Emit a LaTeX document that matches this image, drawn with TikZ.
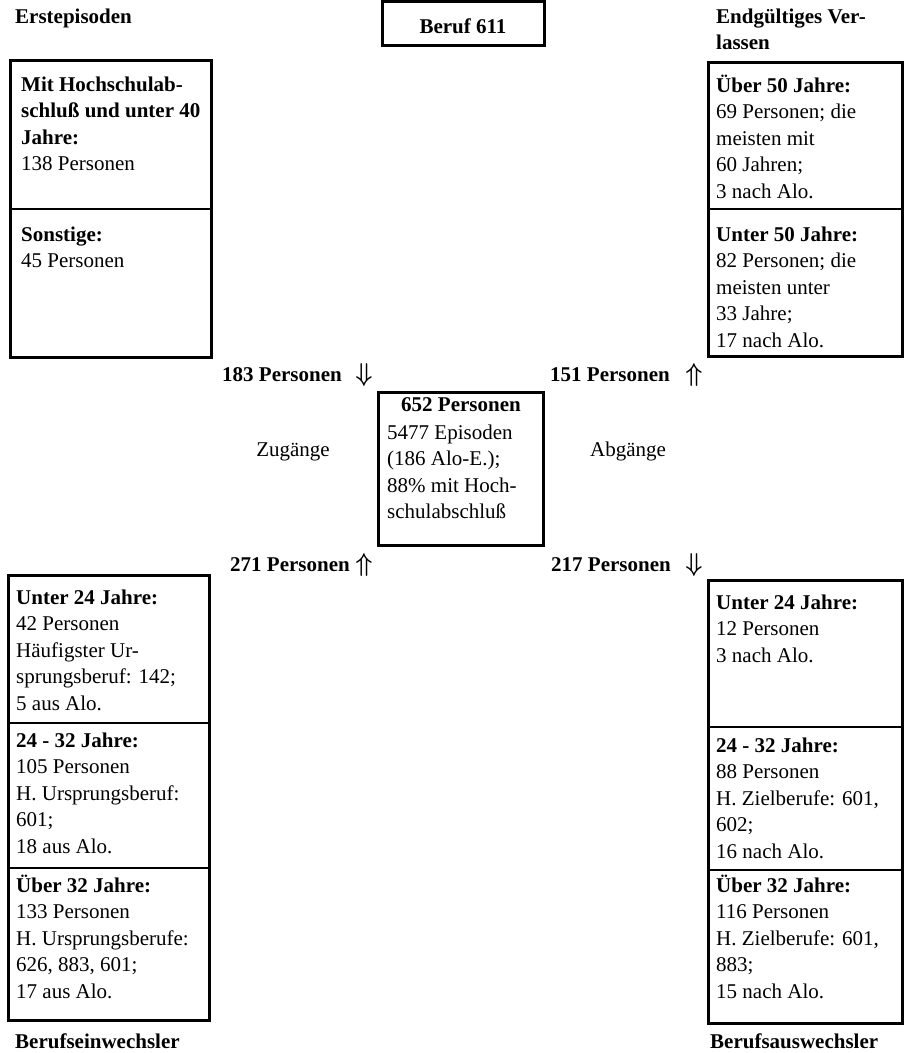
\documentclass[tikz,border=0pt]{standalone}
\usepackage{fontspec}
\setmainfont{Liberation Serif}
\newcommand\boxtext[1]{\parbox[t]{200pt}{\raggedright #1}}
\newcommand\dnarr{\scalebox{1.15}[1.25]{\boldmath$\Downarrow$}}
\newcommand\uparr{\scalebox{1.15}[1.25]{\boldmath$\Uparrow$}}
\begin{document}
\begin{tikzpicture}[x=1pt,y=-1pt,
  txt/.style={anchor=base west, inner sep=0pt, font=\fontsize{21}{26.5}\selectfont},
  ctxt/.style={anchor=base, inner sep=0pt, font=\fontsize{21}{26.5}\selectfont},
  outer/.style={line width=3pt},
  divline/.style={line width=1.8pt}]
\useasboundingbox[fill=white] (0,0) rectangle (904,1053);

% ---------- top centre ----------
\draw[outer] (382,1) rectangle (544,45);
\node[ctxt] (beruf) at (463,33) {\textbf{Beruf 611}};

% ---------- top left ----------
\node[txt] (erst) at (15,23) {\textbf{Erstepisoden}};
\draw[outer] (10,60) rectangle (211,357);
\draw[divline] (10,209) -- (211,209);
\node[txt] (tla) at (21,91) {\boxtext{\textbf{Mit Hochschulab-}\\\textbf{schluß und unter 40}\\\textbf{Jahre:}\\138 Personen}};
\node[txt] (tlb) at (21,241) {\boxtext{\textbf{Sonstige:}\\45 Personen}};

% ---------- top right ----------
\node[txt] (endg) at (716,23) {\boxtext{\textbf{Endgültiges Ver-}\\\textbf{lassen}}};
\draw[outer] (708,62) rectangle (902,356);
\draw[divline] (708,209) -- (902,209);
\node[txt] (tra) at (716,92) {\boxtext{\textbf{Über 50 Jahre:}\\69 Personen; die\\meisten mit\\60 Jahren;\\3 nach Alo.}};
\node[txt] (trb) at (716,241) {\boxtext{\textbf{Unter 50 Jahre:}\\82 Personen; die\\meisten unter\\33 Jahre;\\17 nach Alo.}};

% ---------- flow labels ----------
\node[txt] (zug1) at (222,381) {\textbf{183 Personen}};
\node[ctxt] (zug1a) at (364,381) {\dnarr};
\node[txt] (abg1) at (550,381) {\textbf{151 Personen}};
\node[ctxt] (abg1a) at (694,381) {\uparr};
\node[ctxt] (zug) at (293,456) {Zugänge};
\node[ctxt] (abg) at (628,456) {Abgänge};
\node[txt] (zug2) at (230,571) {\textbf{271 Personen}};
\node[ctxt] (zug2a) at (364,571) {\uparr};
\node[txt] (abg2) at (551,571) {\textbf{217 Personen}};
\node[ctxt] (abg2a) at (694,571) {\dnarr};

% ---------- centre ----------
\draw[outer] (378,392) rectangle (543,545);
\node[ctxt] (ca) at (461,411) {\textbf{652 Personen}};
\node[txt] (cb) at (387,439) {\boxtext{5477 Episoden\\(186 Alo-E.);\\88\% mit Hoch-\\schulabschluß}};

% ---------- bottom left ----------
\draw[outer] (8,575) rectangle (209,1020);
\draw[divline] (8,723) -- (209,723);
\draw[divline] (8,868) -- (209,868);
\node[txt] (bla) at (16,604) {\boxtext{\textbf{Unter 24 Jahre:}\\42 Personen\\Häufigster Ur-\\sprungsberuf: 142;\\5 aus Alo.}};
\node[txt] (blb) at (16,747) {\boxtext{\textbf{24 - 32 Jahre:}\\105 Personen\\H. Ursprungsberuf:\\601;\\18 aus Alo.}};
\node[txt] (blc) at (16,892) {\boxtext{\textbf{Über 32 Jahre:}\\133 Personen\\H. Ursprungsberufe:\\626, 883, 601;\\17 aus Alo.}};
\node[txt] (ein) at (15,1048) {\textbf{Berufseinwechsler}};

% ---------- bottom right ----------
\draw[outer] (708,580) rectangle (902,1023);
\draw[divline] (708,727) -- (902,727);
\draw[divline] (708,870) -- (902,870);
\node[txt] (bra) at (716,609) {\boxtext{\textbf{Unter 24 Jahre:}\\12 Personen\\3 nach Alo.}};
\node[txt] (brb) at (716,752) {\boxtext{\textbf{24 - 32 Jahre:}\\88 Personen\\H. Zielberufe: 601,\\602;\\16 nach Alo.}};
\node[txt] (brc) at (716,892) {\boxtext{\textbf{Über 32 Jahre:}\\116 Personen\\H. Zielberufe: 601,\\883;\\15 nach Alo.}};
\node[txt] (aus) at (710,1048) {\textbf{Berufsauswechsler}};
\end{tikzpicture}
\end{document}
